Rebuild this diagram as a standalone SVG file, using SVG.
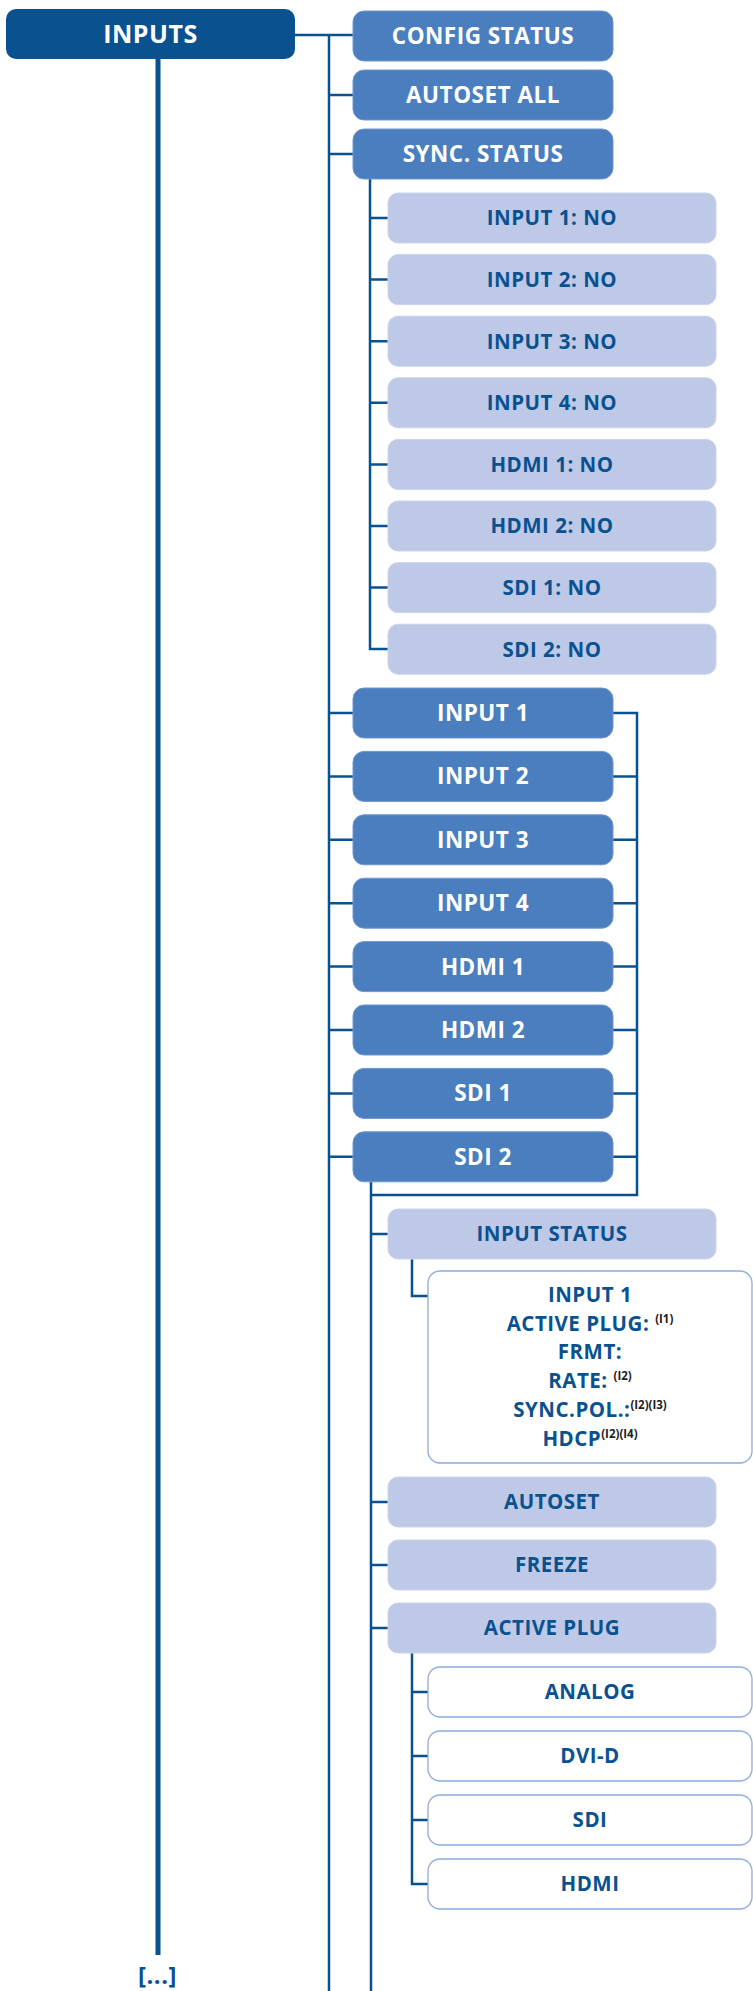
<svg xmlns="http://www.w3.org/2000/svg" width="753" height="1991" viewBox="0 0 753 1991">
<style>
text{font-family:"Open Sans","Liberation Sans",sans-serif;font-weight:700;text-anchor:middle;letter-spacing:0.5px}
.root rect{fill:#0a5190}
.root text{fill:#fff;font-size:25px}
.l2 rect{fill:#4a7ebe;stroke:#6f97cf;stroke-width:1}
.l2 text{fill:#fff;font-size:22.5px}
.l3 rect{fill:#bdc9e6;stroke:#c9d3ec;stroke-width:1}
.l3 text{fill:#0a5190;font-size:20.5px}
.l4 rect{fill:#fff;stroke:#8faadc;stroke-width:1.3}
.l4 text{fill:#0a5190;font-size:20.5px}
.sup{fill:#222;font-size:11.5px;letter-spacing:0}
.c path{fill:none;stroke:#0a5190;stroke-width:2.5}
.c .main{stroke-width:5}
.more{fill:#0a5190;font-size:24px}
</style>
<g class="c" id="connectors">
<path class="main" d="M158,59 V1955"/>
<path d="M295,35 H353 M329,35 V1991"/>
<path d="M329,95 H353 M329,154 H353"/>
<path d="M329,713 H353 M329,776.4 H353 M329,839.8 H353 M329,903.2 H353 M329,966.6 H353 M329,1030 H353 M329,1093.4 H353 M329,1156.8 H353"/>
<path d="M613,713 H637 V1195 H371 M613,776.4 H637 M613,839.8 H637 M613,903.2 H637 M613,966.6 H637 M613,1030 H637 M613,1093.4 H637 M613,1156.8 H637"/>
<path d="M370,179 V649 H388 M370,218 H388 M370,279.6 H388 M370,341.2 H388 M370,402.8 H388 M370,464.4 H388 M370,526 H388 M370,587.6 H388"/>
<path d="M371,1182 V1991 M371,1234 H388 M371,1502 H388 M371,1565 H388 M371,1628 H388"/>
<path d="M412,1259 V1296 H428"/>
<path d="M412,1653 V1884 H428 M412,1692 H428 M412,1756 H428 M412,1820 H428"/>
</g>
<g id="inputs" class="root"><rect x="6" y="9" width="289" height="50" rx="10"/><text x="150.5" y="43">INPUTS</text></g>
<g id="config-status" class="l2"><rect x="353" y="11" width="260" height="50" rx="11"/><text x="483" y="44">CONFIG STATUS</text></g>
<g id="autoset-all" class="l2"><rect x="353" y="70" width="260" height="50" rx="11"/><text x="483" y="103">AUTOSET ALL</text></g>
<g id="sync-status" class="l2"><rect x="353" y="129" width="260" height="50" rx="11"/><text x="483" y="162">SYNC. STATUS</text></g>
<g id="s-input1" class="l3"><rect x="388" y="193" width="328" height="50" rx="10"/><text x="552" y="225.3">INPUT 1: NO</text></g>
<g id="s-input2" class="l3"><rect x="388" y="254.6" width="328" height="50" rx="10"/><text x="552" y="286.9">INPUT 2: NO</text></g>
<g id="s-input3" class="l3"><rect x="388" y="316.2" width="328" height="50" rx="10"/><text x="552" y="348.5">INPUT 3: NO</text></g>
<g id="s-input4" class="l3"><rect x="388" y="377.8" width="328" height="50" rx="10"/><text x="552" y="410.1">INPUT 4: NO</text></g>
<g id="s-hdmi1" class="l3"><rect x="388" y="439.4" width="328" height="50" rx="10"/><text x="552" y="471.7">HDMI 1: NO</text></g>
<g id="s-hdmi2" class="l3"><rect x="388" y="501" width="328" height="50" rx="10"/><text x="552" y="533.3">HDMI 2: NO</text></g>
<g id="s-sdi1" class="l3"><rect x="388" y="562.6" width="328" height="50" rx="10"/><text x="552" y="594.9">SDI 1: NO</text></g>
<g id="s-sdi2" class="l3"><rect x="388" y="624.2" width="328" height="50" rx="10"/><text x="552" y="656.5">SDI 2: NO</text></g>
<g id="input1" class="l2"><rect x="353" y="688" width="260" height="50" rx="11"/><text x="483" y="721">INPUT 1</text></g>
<g id="input2" class="l2"><rect x="353" y="751.4" width="260" height="50" rx="11"/><text x="483" y="784.4">INPUT 2</text></g>
<g id="input3" class="l2"><rect x="353" y="814.8" width="260" height="50" rx="11"/><text x="483" y="847.8">INPUT 3</text></g>
<g id="input4" class="l2"><rect x="353" y="878.2" width="260" height="50" rx="11"/><text x="483" y="911.2">INPUT 4</text></g>
<g id="hdmi1" class="l2"><rect x="353" y="941.6" width="260" height="50" rx="11"/><text x="483" y="974.6">HDMI 1</text></g>
<g id="hdmi2" class="l2"><rect x="353" y="1005" width="260" height="50" rx="11"/><text x="483" y="1038">HDMI 2</text></g>
<g id="sdi1" class="l2"><rect x="353" y="1068.4" width="260" height="50" rx="11"/><text x="483" y="1101.4">SDI 1</text></g>
<g id="sdi2" class="l2"><rect x="353" y="1131.8" width="260" height="50" rx="11"/><text x="483" y="1164.8">SDI 2</text></g>
<g id="input-status" class="l3"><rect x="388" y="1209" width="328" height="50" rx="10"/><text x="552" y="1241.3">INPUT STATUS</text></g>
<g id="status-detail" class="l4"><rect x="428" y="1271" width="324" height="192" rx="12"/>
<text x="590" y="1302">INPUT 1</text>
<text x="590" y="1331">ACTIVE PLUG: <tspan class="sup" dy="-8">(I1)</tspan></text>
<text x="590" y="1359">FRMT:</text>
<text x="590" y="1388">RATE: <tspan class="sup" dy="-8">(I2)</tspan></text>
<text x="590" y="1417">SYNC.POL.:<tspan class="sup" dy="-8">(I2)(I3)</tspan></text>
<text x="590" y="1446">HDCP<tspan class="sup" dy="-8">(I2)(I4)</tspan></text>
</g>
<g id="autoset" class="l3"><rect x="388" y="1477" width="328" height="50" rx="10"/><text x="552" y="1509.3">AUTOSET</text></g>
<g id="freeze" class="l3"><rect x="388" y="1540" width="328" height="50" rx="10"/><text x="552" y="1572.3">FREEZE</text></g>
<g id="active-plug" class="l3"><rect x="388" y="1603" width="328" height="50" rx="10"/><text x="552" y="1635.3">ACTIVE PLUG</text></g>
<g id="analog" class="l4"><rect x="428" y="1667" width="324" height="50" rx="12"/><text x="590" y="1699.3">ANALOG</text></g>
<g id="dvi-d" class="l4"><rect x="428" y="1731" width="324" height="50" rx="12"/><text x="590" y="1763.3">DVI-D</text></g>
<g id="sdi" class="l4"><rect x="428" y="1795" width="324" height="50" rx="12"/><text x="590" y="1827.3">SDI</text></g>
<g id="hdmi" class="l4"><rect x="428" y="1859" width="324" height="50" rx="12"/><text x="590" y="1891.3">HDMI</text></g>
<g id="more"><text class="more" x="157.5" y="1984">[...]</text></g>
</svg>
